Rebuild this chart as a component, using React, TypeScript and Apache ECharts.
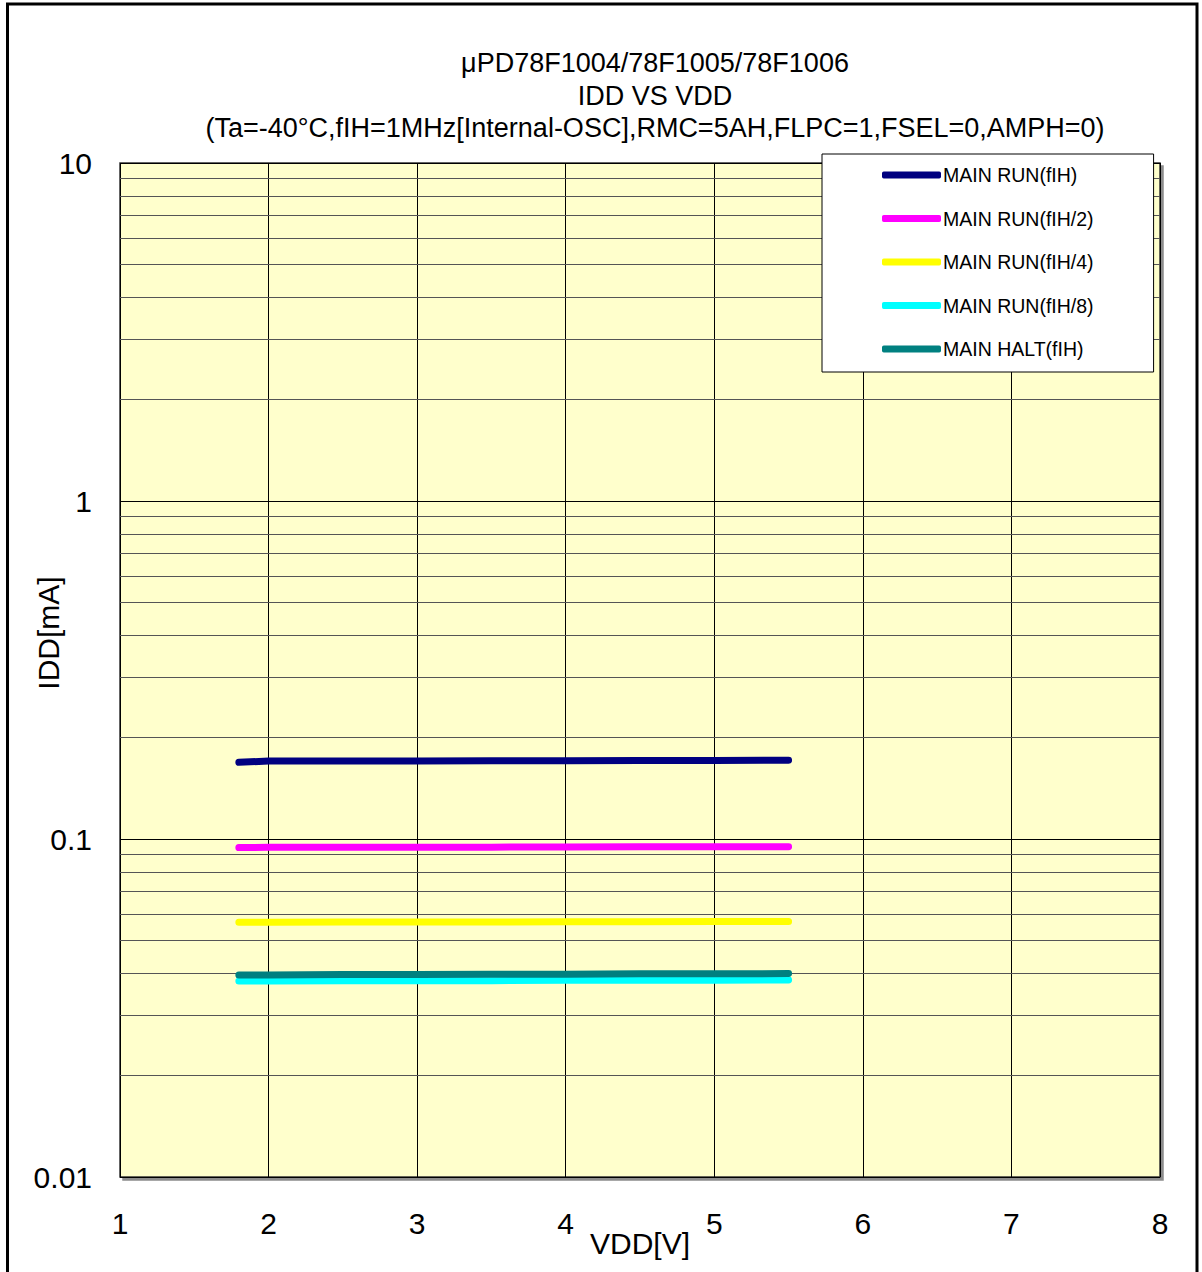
import React, { useEffect, useRef } from "react";
import * as echarts from "echarts";

const vdd = [1.8, 2.0, 2.5, 3.0, 3.5, 4.0, 4.5, 5.0, 5.5];
const runFih = [0.1686, 0.170, 0.1701, 0.1702, 0.1703, 0.1705, 0.1706, 0.1708, 0.1709];
const runFih2 = [0.0943, 0.0945, 0.0945, 0.0946, 0.0946, 0.0947, 0.0948, 0.0948, 0.0949];
const runFih4 = [0.0567, 0.0567, 0.0568, 0.0568, 0.0568, 0.0569, 0.0569, 0.0570, 0.0570];
const runFih8 = [0.0380, 0.0380, 0.0381, 0.0381, 0.0381, 0.0382, 0.0382, 0.0382, 0.03826];
const haltFih = [0.0396, 0.0396, 0.0397, 0.0397, 0.0398, 0.0398, 0.0399, 0.0399, 0.0400];

const seriesNames = ["MAIN RUN(fIH)", "MAIN RUN(fIH/2)", "MAIN RUN(fIH/4)", "MAIN RUN(fIH/8)", "MAIN HALT(fIH)"];
const seriesColors = ["#000080", "#FF00FF", "#FFFF00", "#00FFFF", "#008080"];
const yTickLabels: Record<string, string> = { "0.01": "0.01", "0.1": "0.1", "1": "1", "10": "10" };
const minorGrid = [
  0.02, 0.03, 0.04, 0.05, 0.06, 0.07, 0.08, 0.09,
  0.2, 0.3, 0.4, 0.5, 0.6, 0.7, 0.8, 0.9,
  2, 3, 4, 5, 6, 7, 8, 9,
];
const titleLines = [
  "μPD78F1004/78F1005/78F1006",
  "IDD VS VDD",
  "(Ta=-40°C,fIH=1MHz[Internal-OSC],RMC=5AH,FLPC=1,FSEL=0,AMPH=0)",
];

export default function App() {
  const ref = useRef<HTMLDivElement>(null);
  useEffect(() => {
    if (!ref.current) return;
    const chart = echarts.init(ref.current, null, { renderer: "svg" });
    const dataSets = [runFih, runFih2, runFih4, runFih8, haltFih];
    const font = "Arial, 'Liberation Sans', sans-serif";
    chart.setOption({
      animation: false,
      backgroundColor: "#FFFFFF",
      textStyle: { fontFamily: font },
      title: {
        text: titleLines.join("\n"),
        left: 655,
        top: 47,
        padding: 0,
        textAlign: "center",
        textStyle: { fontSize: 27, fontWeight: "normal", color: "#000", lineHeight: 32.5, fontFamily: font },
      },
      legend: {
        orient: "vertical",
        left: 822,
        top: 154,
        z: 10,
        data: seriesNames,
        backgroundColor: "#FFFFFF",
        borderColor: "#000",
        borderWidth: 1,
        borderRadius: 0,
        padding: [11, 60, 13, 60],
        itemGap: 23.5,
        itemWidth: 59,
        itemHeight: 7,
        icon: "roundRect",
        textStyle: { fontSize: 19.5, color: "#000", padding: [4, 0, 0, -3], fontFamily: font },
      },
      grid: {
        left: 120,
        top: 163,
        width: 1040,
        height: 1014,
        show: true,
        backgroundColor: "#FFFFCC",
        borderColor: "#333",
        borderWidth: 1.5,
        shadowColor: "rgba(0,0,0,0.45)",
        shadowOffsetX: 3,
        shadowOffsetY: 3,
        shadowBlur: 0,
      },
      xAxis: {
        type: "value",
        min: 1,
        max: 8,
        interval: 1,
        name: "VDD[V]",
        nameLocation: "middle",
        nameGap: 51,
        nameMoveOverlap: false,
        nameTextStyle: { fontSize: 30, color: "#000", fontFamily: font },
        axisLine: { show: false },
        axisTick: { show: false },
        axisLabel: { fontSize: 30, color: "#000", margin: 31, fontFamily: font },
        splitLine: { show: true, lineStyle: { color: "#000", width: 1 } },
      },
      yAxis: {
        type: "log",
        logBase: 10,
        min: 0.01,
        max: 10,
        name: "IDD[mA]",
        nameLocation: "middle",
        nameGap: 57,
        nameMoveOverlap: false,
        nameTextStyle: { fontSize: 30, color: "#000", fontFamily: font, padding: [0, 0, 0, 74] },
        axisLine: { show: false },
        axisTick: { show: false },
        axisLabel: {
          fontSize: 30,
          color: "#000",
          margin: 28,
          fontFamily: font,
          formatter: (v: number) => {
            const k = String(parseFloat(v.toPrecision(3)));
            return yTickLabels[k] ?? k;
          },
        },
        splitLine: { show: true, lineStyle: { color: "#000", width: 1 } },
      },
      graphic: [
        {
          type: "rect",
          shape: { x: 7.5, y: 4, width: 1189.5, height: 1320 },
          style: { fill: "none", stroke: "#000", lineWidth: 3 },
          silent: true,
          z: 100,
        },
      ],
      series: [
        {
          name: "minor",
          type: "line",
          data: [],
          silent: true,
          z: 1,
          markLine: {
            silent: true,
            symbol: "none",
            z: 1,
            animation: false,
            label: { show: false },
            lineStyle: { color: "#555", width: 1, type: "solid" },
            emphasis: { disabled: true },
            data: minorGrid.map((v) => ({ yAxis: v })),
          },
        },
        ...dataSets.map((d, i) => ({
          name: seriesNames[i],
          type: "line",
          data: vdd.map((x, j) => [x, d[j]]),
          showSymbol: false,
          symbol: "none",
          smooth: false,
          color: seriesColors[i],
          lineStyle: { color: seriesColors[i], width: 7, cap: "round", join: "round" },
          z: 3 + i,
        })),
      ],
    });
    return () => chart.dispose();
  }, []);
  return (
    <div
      ref={ref}
      style={{ position: "fixed", left: 0, top: 0, width: 1202, height: 1272 }}
    />
  );
}
